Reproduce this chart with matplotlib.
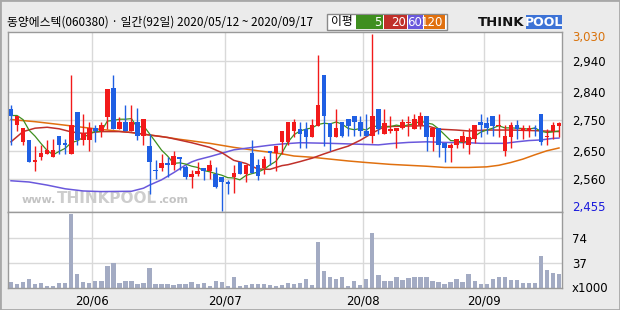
import numpy as np
import pandas as pd
import matplotlib
matplotlib.use("Agg")
import matplotlib.pyplot as plt
from matplotlib.patches import Rectangle

plt.rcParams['font.family'] = ['Noto Sans CJK KR', 'DejaVu Sans']

W, H = 620, 310

# 일봉 데이터 (2020/05/12 ~ 2020/09/17, 92일)
opens = [2785, 2735, 2680, 2685, 2615, 2630, 2640, 2630, 2700, 2675,
         2640, 2775, 2685, 2685, 2725, 2715, 2760, 2855, 2720, 2745,
         2715, 2745, 2700, 2665, 2590, 2595, 2610, 2605, 2630, 2600,
         2565, 2575, 2595, 2585, 2575, 2565, 2550, 2565, 2615, 2575,
         2645, 2605, 2595, 2650, 2645, 2680, 2680, 2715, 2720, 2720,
         2695, 2730, 2895, 2740, 2695, 2745, 2755, 2765, 2745, 2715,
         2700, 2785, 2705, 2715, 2715, 2725, 2740, 2720, 2735, 2765,
         2695, 2725, 2675, 2660, 2670, 2680, 2670, 2690, 2745, 2740,
         2765, 2730, 2650, 2695, 2735, 2715, 2715, 2725, 2770, 2695,
         2715, 2730]
highs = [2800, 2765, 2725, 2685, 2665, 2670, 2685, 2690, 2700, 2690,
         2895, 2775, 2770, 2745, 2735, 2745, 2850, 2895, 2760, 2800,
         2800, 2790, 2755, 2705, 2620, 2640, 2630, 2650, 2630, 2605,
         2590, 2615, 2595, 2620, 2600, 2565, 2555, 2605, 2615, 2605,
         2685, 2625, 2635, 2650, 2665, 2715, 2745, 2755, 2745, 2745,
         2755, 2960, 2895, 2740, 2785, 2745, 2755, 2765, 2765, 2770,
         3030, 2785, 2785, 2765, 2725, 2755, 2765, 2770, 2775, 2765,
         2725, 2725, 2675, 2675, 2690, 2715, 2725, 2735, 2770, 2760,
         2765, 2770, 2735, 2745, 2750, 2735, 2735, 2735, 2770, 2720,
         2745, 2745]
lows = [2670, 2715, 2670, 2615, 2585, 2620, 2640, 2630, 2640, 2640,
        2640, 2670, 2670, 2650, 2680, 2695, 2720, 2720, 2720, 2715,
        2715, 2685, 2670, 2510, 2560, 2585, 2565, 2590, 2590, 2560,
        2530, 2570, 2555, 2560, 2530, 2455, 2510, 2515, 2575, 2550,
        2580, 2555, 2575, 2605, 2585, 2640, 2670, 2695, 2660, 2660,
        2695, 2730, 2665, 2650, 2695, 2695, 2700, 2700, 2700, 2700,
        2675, 2705, 2705, 2710, 2660, 2720, 2700, 2720, 2720, 2650,
        2650, 2630, 2615, 2615, 2660, 2660, 2640, 2675, 2695, 2705,
        2700, 2695, 2635, 2660, 2690, 2690, 2695, 2700, 2670, 2670,
        2690, 2695]
closes = [2765, 2765, 2725, 2615, 2620, 2645, 2655, 2655, 2670, 2670,
          2735, 2685, 2710, 2725, 2715, 2735, 2850, 2720, 2745, 2715,
          2745, 2700, 2755, 2615, 2585, 2610, 2605, 2635, 2625, 2565,
          2575, 2585, 2585, 2605, 2535, 2550, 2545, 2580, 2575, 2605,
          2580, 2570, 2625, 2645, 2665, 2715, 2745, 2745, 2705, 2695,
          2735, 2800, 2765, 2695, 2725, 2700, 2730, 2745, 2715, 2700,
          2765, 2720, 2740, 2720, 2725, 2745, 2745, 2755, 2765, 2695,
          2725, 2670, 2660, 2670, 2690, 2700, 2695, 2735, 2735, 2725,
          2730, 2735, 2700, 2735, 2720, 2725, 2725, 2720, 2680, 2700,
          2735, 2740]
volumes = [8.4, 6.4, 8.4, 12.8, 6.4, 7.4, 2.5, 2.5, 7.4, 7.4,
           109, 20, 8.4, 7.4, 9.9, 9.9, 32, 37, 7.4, 9.9,
           9.9, 6.4, 7.4, 29, 6.4, 5.4, 5.4, 4.4, 5.4, 5.4,
           8.4, 5.4, 7.4, 3.5, 9.9, 8.4, 3.5, 15.8, 2.5, 4.4,
           5.4, 6.4, 6.4, 5.0, 3.5, 4.4, 7.4, 6.4, 7.4, 12.8,
           4.4, 67.6, 25, 15.8, 12.8, 16.8, 2.5, 10.9, 4.4, 12.8,
           82, 18.7, 9.9, 9.9, 16.8, 11.8, 14.8, 15.8, 16.8, 15.8,
           9.9, 8.4, 6.4, 8.4, 12.8, 8.4, 20, 10.9, 6.4, 5.4,
           12.8, 15.8, 15.8, 11.8, 11.8, 7.4, 7.4, 7.4, 48, 26,
           22, 21]

# 이동평균선
ma20_x = [0, 2, 4, 6, 8, 10, 12, 15, 18, 20, 23, 26, 30, 31, 33, 35, 37, 39, 41, 43,
          45, 46, 48, 50, 52, 54, 56, 58, 60, 62, 66, 69, 71, 74, 76, 79, 83, 87, 91]
ma20_y = [2680, 2713, 2724, 2727, 2722, 2712, 2707, 2713, 2713, 2710, 2702, 2694, 2677,
          2672, 2662, 2645, 2620, 2610, 2592, 2591, 2603, 2606, 2616, 2627, 2641, 2654,
          2666, 2685, 2708, 2729, 2731, 2732, 2721, 2718, 2715, 2718, 2718, 2716, 2713]
ma60_x = [0, 3, 6, 9, 12, 15, 20, 22, 23, 25, 27, 29, 30, 31, 33, 35, 37, 39, 41, 43,
          45, 48, 53, 58, 61, 63, 66, 69, 72, 76, 78, 82, 84, 86, 88, 90, 91]
ma60_y = [2554, 2550, 2540, 2528, 2521, 2519, 2520, 2530, 2540, 2557, 2580, 2605, 2615,
          2622, 2632, 2643, 2654, 2659, 2664, 2669, 2673, 2677, 2675, 2672, 2670, 2674,
          2678, 2680, 2678, 2677, 2675, 2675, 2680, 2684, 2686, 2691, 2692]
ma120_x = [0, 4, 8, 11, 14, 17, 20, 23, 25, 28, 30, 33, 37, 41, 45, 47, 50, 53, 56, 59,
           61, 63, 66, 69, 72, 76, 79, 81, 83, 85, 87, 89, 91]
ma120_y = [2752, 2745, 2736, 2729, 2722, 2716, 2710, 2702, 2697, 2688, 2683, 2675, 2662,
           2651, 2641, 2634, 2630, 2624, 2618, 2613, 2610, 2607, 2604, 2601, 2597, 2597,
           2599, 2604, 2613, 2624, 2638, 2651, 2660]

month_starts = [14, 36, 59, 79]
month_labels = ['20/06', '20/07', '20/08', '20/09']
price_ticks = [2560, 2650, 2750, 2840, 2940]
price_max, price_min = 3030, 2455
vol_ticks = [37, 74]

title = '동양에스텍(060380) · 일간(92일) 2020/05/12 ~ 2020/09/17'
ma_names = ['5', '20', '60', '120']

UP, DOWN = '#f21a1a', '#1f5fe3'
MA_COLORS = ['#3f8f1f', '#c0302a', '#6a58dc', '#e0700f']
GRID = '#d9d9d9'
FRAME = '#9a9a9a'

n = len(closes)
x = np.arange(n)
o, hi, lo, c = map(np.array, (opens, highs, lows, closes))
up = c >= o
colors = np.where(up, UP, DOWN)

fig = plt.figure(figsize=(W / 100, H / 100), dpi=100, facecolor='#ebebeb')


def fx(px):
    return px / W


def fy(py):
    return 1 - py / H


ax = fig.add_axes([fx(8), fy(212), fx(554), 180 / H])
axv = fig.add_axes([fx(8), fy(288), fx(554), 76 / H])

for a in (ax, axv):
    a.set_facecolor('white')
    a.set_xlim(-0.5, n - 0.5)
    for s in a.spines.values():
        s.set_color(FRAME)
        s.set_linewidth(1)
    for m in month_starts:
        a.axvline(m - 0.5, color=GRID, lw=1, zorder=0)

# 가격 차트
ax.set_ylim(2453, 3035)
for p in price_ticks:
    ax.axhline(p, color=GRID, lw=1, zorder=0)

ax.vlines(x, lo, hi, colors=colors, lw=1, zorder=3)
body = np.maximum(np.abs(c - o), 3)
ax.bar(x, body, bottom=np.minimum(o, c), width=0.76, color=colors, lw=0, zorder=4)

ma5 = pd.Series(closes).rolling(5, min_periods=1).mean()
ax.plot(ma120_x, ma120_y, color=MA_COLORS[3], lw=1.1, zorder=2)
ax.plot(ma60_x, ma60_y, color=MA_COLORS[2], lw=1.1, zorder=2)
ax.plot(ma20_x, ma20_y, color=MA_COLORS[1], lw=1.1, zorder=2)
ax.plot(x, ma5, color=MA_COLORS[0], lw=0.9, zorder=2)

ax.set_xticks([])
ax.yaxis.tick_right()
ax.set_yticks(price_ticks)
ax.set_yticklabels([f'{p:,}' for p in price_ticks], family='DejaVu Sans', fontsize=8.5)
ax.tick_params(axis='y', length=0, pad=7)
ax.annotate(f'{price_max:,}', xy=(1, price_max), xycoords=('axes fraction', 'data'),
            xytext=(7, -3), textcoords='offset points', va='center', ha='left',
            color='#d9730d', family='DejaVu Sans', fontsize=8.5)
ax.annotate(f'{price_min:,}', xy=(1, price_min), xycoords=('axes fraction', 'data'),
            xytext=(7, 3), textcoords='offset points', va='center', ha='left',
            color='#1a1adc', family='DejaVu Sans', fontsize=8.5)

# 워터마크 (www. THINKPOOL .com 이어붙이기)
wm1 = ax.text(fx(14) * W / 554, 0.04, 'www.', transform=ax.transAxes, color='#c4c4c4',
              fontsize=8, family='DejaVu Sans', fontweight='bold', va='bottom', zorder=1)
wm2 = ax.annotate('THINKPOOL', xy=(1, 0), xycoords=wm1, xytext=(0.8, -1),
                  textcoords='offset points', color='#cdcdcd', fontsize=11,
                  family='DejaVu Sans', fontweight='heavy', va='bottom', zorder=1)
ax.annotate('.com', xy=(1, 0), xycoords=wm2, xytext=(0.8, 1),
            textcoords='offset points', color='#c4c4c4', fontsize=8,
            family='DejaVu Sans', fontweight='bold', va='bottom', zorder=1)

# 거래량
axv.set_ylim(0, 112.5)
for v in vol_ticks:
    axv.axhline(v, color=GRID, lw=1, zorder=0)
axv.bar(x, volumes, width=0.72, color='#a3abc3', lw=0, zorder=2)
axv.yaxis.tick_right()
axv.set_yticks(vol_ticks)
axv.set_yticklabels([str(v) for v in vol_ticks], family='DejaVu Sans', fontsize=8.5)
axv.tick_params(axis='y', length=0, pad=7)
axv.annotate('x1000', xy=(1, 0), xycoords='axes fraction', xytext=(7, 0),
             textcoords='offset points', va='center', ha='left',
             family='DejaVu Sans', fontsize=8.5)
axv.set_xticks([m - 0.5 for m in month_starts])
axv.set_xticklabels(month_labels, family='DejaVu Sans', fontsize=8.5)
axv.tick_params(axis='x', length=0, pad=5)

# 제목
fig.text(fx(7), fy(22), title, fontsize=8.5, va='center', ha='left')

# 이평 범례
fig.add_artist(Rectangle((fx(327), fy(30)), fx(120), 16 / H, transform=fig.transFigure,
                         facecolor='white', edgecolor='#8a8a8a', lw=1))
fig.text(fx(342), fy(22), '이평', fontsize=8.5, va='center', ha='center')
box_x = [356, 384, 408, 424]
box_w = [27, 23, 15, 21]
for bx, bw, col, name in zip(box_x, box_w, MA_COLORS, ma_names):
    fig.add_artist(Rectangle((fx(bx), fy(28.5)), fx(bw), 13 / H, transform=fig.transFigure,
                             facecolor=col, edgecolor='none'))
    fig.text(fx(bx + bw - 1.5), fy(22), name, color='white', fontsize=8.5,
             family='DejaVu Sans', va='center', ha='right')

# 로고
fig.text(fx(524.5), fy(22), 'THINK', fontsize=9.5, fontweight='heavy', family='DejaVu Sans',
         va='center', ha='right', color='#111111')
fig.add_artist(Rectangle((fx(526), fy(29)), fx(36), 14 / H, transform=fig.transFigure,
                         facecolor='#3d73d6', edgecolor='none'))
fig.text(fx(544), fy(22), 'POOL', fontsize=9, fontweight='heavy', family='DejaVu Sans',
         va='center', ha='center', color='white')

# 바깥 테두리
fig.add_artist(Rectangle((0, 0), 1, 1, transform=fig.transFigure, fill=False,
                         edgecolor='#a8a8a8', lw=2))

fig.savefig('out.png', dpi=100, facecolor=fig.get_facecolor())
plt.close(fig)
